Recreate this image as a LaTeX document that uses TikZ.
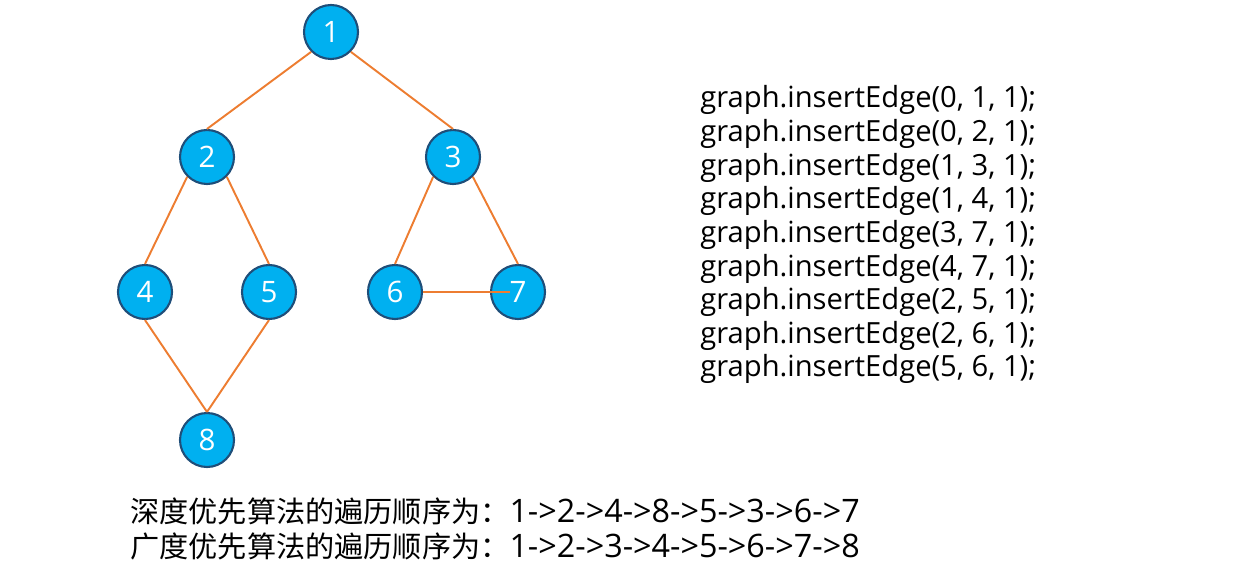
\documentclass[tikz,border=0pt]{standalone}
\usepackage{fontspec}
\setmainfont{Open Sans}
\newfontfamily\cjk{Noto Sans CJK SC}
\usepackage{xcolor}
\usetikzlibrary{positioning}
\definecolor{nodeblue}{HTML}{00B0F0}
\definecolor{rimblue}{HTML}{1F4E79}
\definecolor{edgeorange}{HTML}{ED7D31}

\begin{document}
\begin{tikzpicture}
        [
    x=0.02cm, y=-0.02cm,
    vert/.style={circle, draw=rimblue, line width=1.2pt, fill=nodeblue, text=white,
        minimum size=1.08cm, inner sep=0pt, font=\fontsize{16.8}{19}\selectfont},
    edge/.style={draw=edgeorange, line width=1.1pt},
    code/.style={anchor=base west, inner sep=0pt, font=\fontsize{16.6}{19}\selectfont},
    order/.style={anchor=base west, inner sep=0pt, font=\fontsize{18.4}{22}\selectfont}
    ]
    \useasboundingbox (0,0) rectangle (1250,564);

    % Vertices
    \node [vert] (v1) at (331,32) {1};
    \node [vert] (v2) at (207,157) {2};
    \node [vert] (v3) at (453,157) {3};
    \node [vert] (v4) at (145,292) {4};
    \node [vert] (v5) at (269,292) {5};
    \node [vert] (v6) at (395,292) {6};
    \node [vert] (v7) at (518,292) {7};
    \node [vert] (v8) at (207,440) {8};
    % Edges
    \draw [edge] (v1.south west) -- (v2.north);
    \draw [edge] (v1.south east) -- (v3.north);
    \draw [edge] (v2.south west) -- (v4.north);
    \draw [edge] (v2.south east) -- (v5.north);
    \draw [edge] (v3.south west) -- (v6.north);
    \draw [edge] (v3.south east) -- (v7.north);
    \draw [edge] (v4.south) -- (v8.north);
    \draw [edge] (v5.south) -- (v8.north);
    \coordinate (e7) at ([xshift=-0.16cm]v7.center);
    \draw [edge] (v6.east) -- (e7);
    % Code
    \foreach \a/\b [count=\i] in {0/1,0/2,1/3,1/4,3/7,4/7,2/5,2/6,5/6}
        \node [code] (c\i) at (700,74.4+33.6*\i) {graph.insertEdge(\a, \b, 1);};
    % Traversal orders
    \node [order] (dfs) at (130,522) {{\cjk\fontsize{16.6}{22}\selectfont 深度优先算法的遍历顺序为：}1->2->4->8->5->3->6->7};
    \node [order] (bfs) at (130,557) {{\cjk\fontsize{16.6}{22}\selectfont 广度优先算法的遍历顺序为：}1->2->3->4->5->6->7->8};
\end{tikzpicture}
\end{document}
